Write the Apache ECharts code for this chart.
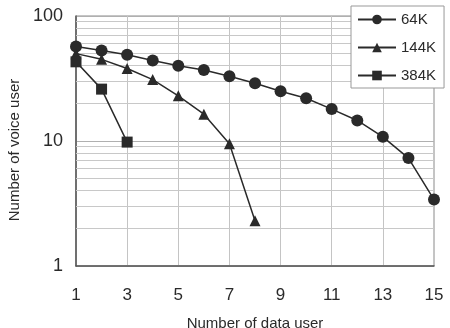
<!DOCTYPE html>
<html>
<head>
<meta charset="utf-8">
<script src="https://cdn.jsdelivr.net/npm/echarts@6/dist/echarts.min.js"></script>
<style>
  html, body { margin: 0; padding: 0; background: #fff; }
  #chart { width: 450px; height: 328px; }
</style>
</head>
<body>
<div id="chart"></div>
<script>
const dataUsers = [1, 2, 3, 4, 5, 6, 7, 8, 9, 10, 11, 12, 13, 14, 15];
const voice64k = [57, 53, 49, 44, 40, 37, 33, 29, 25, 22, 18, 14.6, 10.8, 7.3, 3.4];
const voice144k = [50, 45, 38, 31, 23, 16.4, 9.5, 2.3];
const voice384k = [43, 26, 9.8];
const minorGrid = [2, 3, 4, 5, 6, 7, 8, 9, 20, 30, 40, 50, 60, 70, 80, 90];

const font = 'Liberation Sans, Arial, sans-serif';
const ink = '#2a2a2a';

function pairs(vals) {
  return vals.map((v, i) => [dataUsers[i], v]);
}

const chart = echarts.init(document.getElementById('chart'), null, { renderer: 'canvas' });

const baseSeries = {
  type: 'line',
  color: ink,
  lineStyle: { color: ink, width: 1.5 },
  itemStyle: { color: ink, borderWidth: 0 },
  z: 3,
};

chart.setOption({
  animation: false,
  textStyle: { fontFamily: font },
  grid: {
    left: 76, right: 16, top: 16, bottom: 62,
    outerBoundsMode: 'none',
    show: true, borderColor: '#8a8a8a', borderWidth: 1,
  },
  legend: {
    left: 351, top: 6, z: 20,
    orient: 'vertical',
    backgroundColor: '#fff',
    borderColor: '#999', borderWidth: 1,
    padding: [6, 8, 5, 6],
    itemWidth: 38, itemHeight: 12, itemGap: 13,
    textStyle: { fontFamily: font, fontSize: 15, color: ink },
    data: ['64K', '144K', '384K'],
  },
  xAxis: {
    type: 'value',
    min: 1, max: 15, interval: 2,
    name: 'Number of data user',
    nameLocation: 'middle', nameGap: 50,
    nameTextStyle: { fontSize: 15, color: ink, fontFamily: font },
    axisLine: { lineStyle: { color: '#555', width: 1.5 } },
    axisTick: { show: false },
    axisLabel: { fontSize: 17, color: ink, margin: 21, fontFamily: font },
    splitLine: { show: true, lineStyle: { color: '#c4c4c4', width: 1 } },
  },
  yAxis: {
    type: 'log', logBase: 10,
    min: 1, max: 100,
    name: 'Number of voice user',
    nameLocation: 'middle', nameGap: 46,
    nameTextStyle: { fontSize: 15, color: ink, fontFamily: font, padding: [0, 0, 0, -18] },
    axisLine: { show: true, lineStyle: { color: '#555', width: 1.5 } },
    axisTick: { show: false },
    axisLabel: { fontSize: 18, color: ink, margin: 13, fontFamily: font },
    splitLine: { show: true, lineStyle: { color: '#b0b0b0', width: 1 } },
  },
  series: [
    {
      ...baseSeries,
      name: '64K',
      symbol: 'circle', symbolSize: 12,
      data: pairs(voice64k),
      markLine: {
        silent: true,
        z: 1,
        symbol: 'none',
        label: { show: false },
        lineStyle: { color: '#c8c8c8', width: 1, type: 'solid' },
        data: minorGrid.map(v => ({ yAxis: v })),
      },
    },
    {
      ...baseSeries,
      name: '144K',
      symbol: 'triangle', symbolSize: 11,
      data: pairs(voice144k),
    },
    {
      ...baseSeries,
      name: '384K',
      symbol: 'rect', symbolSize: 11,
      data: pairs(voice384k),
    },
  ],
});
</script>
</body>
</html>
